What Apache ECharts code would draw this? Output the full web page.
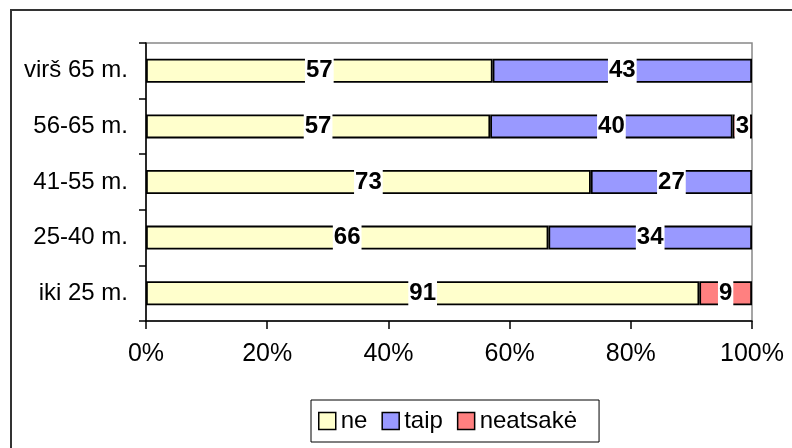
<!DOCTYPE html>
<html>
<head>
<meta charset="utf-8">
<script src="https://cdn.jsdelivr.net/npm/echarts@6/dist/echarts.min.js"></script>
<style>
html,body{margin:0;padding:0;background:#fff;}
#chart{width:792px;height:448px;}
</style>
</head>
<body>
<div id="chart"></div>
<script>
var categories = ['virš 65 m.', '56-65 m.', '41-55 m.', '25-40 m.', 'iki 25 m.'];
var seriesNames = ['ne', 'taip', 'neatsakė'];
var ne = [57.2, 56.8, 73.4, 66.4, 91.3];
var taip = [42.8, 40.0, 26.6, 33.6, 0];
var neatsake = [0, 3.2, 0, 0, 8.7];
var xTicks = [0, 20, 40, 60, 80, 100];
var colors = ['#FFFFCC', '#9999FF', '#FF8080'];

var FONT = 'Liberation Sans';
var chart = echarts.init(document.getElementById('chart'), null, {renderer: 'canvas'});

function mk(name, vals, color) {
  return {
    name: name,
    type: 'bar',
    stack: 'total',
    barWidth: 24,
    data: vals.map(function (v) { return v > 0 ? v : '-'; }),
    itemStyle: {color: color, borderColor: '#000', borderWidth: 1.8},
    label: {
      show: true,
      position: 'inside',
      color: '#000',
      fontFamily: FONT,
      fontWeight: 'bold',
      fontSize: 24,
      lineHeight: 26,
      backgroundColor: '#fff',
      padding: [0, 1],
      formatter: function (p) { return Math.round(p.value); }
    },
    emphasis: {disabled: true}
  };
}

chart.setOption({
  animation: false,
  backgroundColor: '#fff',
  textStyle: {fontFamily: FONT},
  graphic: [{
    type: 'rect',
    shape: {x: 11, y: 10, width: 820, height: 480},
    style: {fill: 'none', stroke: '#333', lineWidth: 2},
    silent: true
  }],
  grid: {
    left: 146, top: 43, right: 40, bottom: 127,
    show: true, borderColor: '#888', borderWidth: 1.5, backgroundColor: 'transparent'
  },
  legend: {
    data: seriesNames,
    left: 311, top: 400,
    orient: 'horizontal',
    icon: 'rect',
    itemWidth: 17, itemHeight: 17,
    itemGap: 14,
    padding: [9, 22, 9, 7],
    borderColor: '#000', borderWidth: 1,
    textStyle: {fontFamily: FONT, fontSize: 24, color: '#000'},
    itemStyle: {borderColor: '#000', borderWidth: 1.5}
  },
  xAxis: {
    type: 'value',
    min: xTicks[0], max: xTicks[xTicks.length - 1], interval: 20,
    axisLine: {show: true, lineStyle: {color: '#000', width: 1.5}},
    axisTick: {show: true, length: 8, lineStyle: {color: '#000', width: 1.5}},
    splitLine: {show: false},
    axisLabel: {formatter: '{value}%', fontSize: 25, color: '#000', fontFamily: FONT, margin: 21}
  },
  yAxis: {
    type: 'category',
    data: categories,
    inverse: true,
    axisLine: {show: true, lineStyle: {color: '#000', width: 1.5}},
    axisTick: {show: true, length: 7, alignWithLabel: false, lineStyle: {color: '#000', width: 1.5}},
    axisLabel: {fontSize: 24, color: '#000', fontFamily: FONT, margin: 18}
  },
  series: [
    mk(seriesNames[0], ne, colors[0]),
    mk(seriesNames[1], taip, colors[1]),
    mk(seriesNames[2], neatsake, colors[2])
  ]
});
</script>
</body>
</html>
